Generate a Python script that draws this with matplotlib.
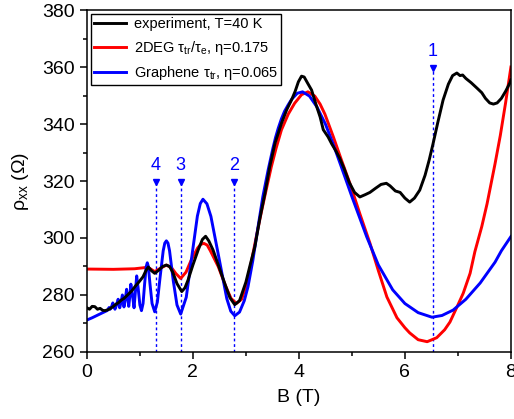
import numpy as np
import matplotlib
matplotlib.use('Agg')
import matplotlib.pyplot as plt

plt.rcParams['font.family'] = ['Liberation Sans', 'DejaVu Sans']
plt.rcParams['mathtext.fontset'] = 'custom'
plt.rcParams['mathtext.rm'] = 'Liberation Sans'
plt.rcParams['mathtext.it'] = 'Liberation Sans:italic'

# experiment, T=40 K
exp_B = [0.00, 0.05, 0.10, 0.15, 0.20, 0.25, 0.30, 0.34, 0.40, 0.44, 0.50, 0.55, 0.59, 0.65,
         0.70, 0.78, 0.85, 0.91, 0.98, 1.06, 1.12, 1.16, 1.22, 1.28, 1.35, 1.43, 1.50, 1.56,
         1.62, 1.70, 1.79, 1.85, 1.91, 2.00, 2.10, 2.18, 2.24, 2.30, 2.38, 2.48, 2.60, 2.70,
         2.79, 2.88, 3.00, 3.08, 3.17, 3.26, 3.36, 3.45, 3.55, 3.67, 3.77, 3.86, 3.93, 3.99,
         4.05, 4.10, 4.16, 4.24, 4.32, 4.40, 4.46, 4.55, 4.62, 4.70, 4.77, 4.85, 4.95, 5.05,
         5.15, 5.25, 5.34, 5.45, 5.55, 5.65, 5.72, 5.82, 5.91, 6.00, 6.09, 6.18, 6.28, 6.38,
         6.46, 6.53, 6.62, 6.72, 6.82, 6.90, 6.98, 7.04, 7.09, 7.15, 7.25, 7.36, 7.45, 7.52,
         7.60, 7.67, 7.74, 7.82, 7.90, 7.98, 8.00]
exp_rho = [275.5, 275.0, 276.0, 275.9, 275.0, 275.3, 274.6, 274.5, 274.8, 275.2, 276.0, 276.8,
           277.2, 278.2, 278.8, 280.2, 281.5, 283.0, 284.5, 286.4, 288.8, 289.8, 288.5, 287.6,
           288.6, 290.0, 290.5, 290.0, 288.0, 284.0, 281.2, 282.5, 285.3, 290.5, 295.8, 299.5,
           300.6, 299.0, 295.8, 290.5, 284.1, 279.0, 276.6, 278.0, 284.5, 290.5, 297.0, 306.5,
           315.7, 325.0, 333.3, 340.2, 345.0, 348.4, 351.5, 354.8, 356.8, 356.5, 354.5, 351.9,
           347.0, 342.5, 338.0, 335.5, 333.0, 330.5, 328.0, 324.5, 319.5, 316.0, 314.4, 315.2,
           316.0, 317.5, 318.8, 319.2, 318.3, 316.5, 316.0, 314.0, 312.6, 314.0, 316.8, 322.0,
           327.5, 333.0, 340.5, 348.4, 354.0, 357.0, 357.9, 357.0, 357.2, 356.0, 354.5, 352.6,
           351.0, 349.0, 347.4, 347.0, 347.4, 349.0, 351.5, 354.4, 355.5]

# 2DEG model
deg_B = [0.00, 0.50, 0.90, 1.09, 1.18, 1.28, 1.38, 1.50, 1.60, 1.68, 1.77, 1.87, 1.97, 2.09,
         2.15, 2.21, 2.27, 2.33, 2.48, 2.62, 2.72, 2.82, 2.92, 3.02, 3.11, 3.20, 3.30, 3.39,
         3.48, 3.57, 3.67, 3.80, 3.92, 4.05, 4.17, 4.30, 4.40, 4.49, 4.65, 4.80, 4.96, 5.15,
         5.34, 5.50, 5.66, 5.85, 6.00, 6.09, 6.25, 6.42, 6.60, 6.75, 6.85, 7.00, 7.10, 7.23,
         7.32, 7.45, 7.55, 7.70, 7.80, 7.90, 8.00]
deg_rho = [289.1, 289.0, 289.2, 289.6, 289.4, 288.2, 289.3, 290.5, 289.5, 287.5, 285.8, 288.0,
           292.3, 296.5, 297.8, 298.1, 297.5, 295.5, 289.9, 283.0, 278.8, 277.0, 278.5, 284.0,
           292.3, 300.8, 309.8, 317.5, 325.0, 331.5, 337.9, 343.5, 347.3, 350.3, 351.3, 349.8,
           347.0, 343.5, 335.5, 327.5, 319.3, 308.5, 298.2, 288.5, 279.3, 272.0, 268.5, 266.7,
           264.3, 263.6, 265.0, 267.8, 270.5, 276.5, 280.6, 287.6, 295.2, 304.0, 312.0, 326.0,
           336.0, 347.5, 360.0]

# Graphene model
gr_B = [0.00, 0.10, 0.20, 0.30, 0.38, 0.42, 0.44, 0.46, 0.49, 0.51, 0.53, 0.56, 0.59, 0.605,
        0.62, 0.645, 0.67, 0.685, 0.70, 0.725, 0.75, 0.77, 0.79, 0.81, 0.83, 0.86, 0.89, 0.915,
        0.94, 0.97, 1.00, 1.03, 1.06, 1.09, 1.12, 1.14, 1.16, 1.19, 1.23, 1.28, 1.33, 1.38,
        1.44, 1.47, 1.50, 1.53, 1.56, 1.63, 1.70, 1.77, 1.875, 1.98, 2.085, 2.14, 2.19, 2.265,
        2.34, 2.49, 2.64, 2.715, 2.79, 2.88, 2.97, 3.04, 3.13, 3.23, 3.32, 3.42, 3.51, 3.56,
        3.61, 3.67, 3.73, 3.80, 3.86, 3.97, 4.07, 4.20, 4.34, 4.50, 4.64, 4.80, 5.00, 5.28,
        5.50, 5.77, 6.00, 6.25, 6.51, 6.70, 6.91, 7.15, 7.42, 7.70, 7.82, 8.00]
gr_rho = [271.2, 272.0, 272.9, 273.8, 274.5, 275.6, 275.0, 275.6, 277.2, 276.0, 275.0, 276.5,
          278.5, 277.0, 275.5, 277.5, 280.0, 278.0, 275.8, 278.5, 282.0, 279.0, 276.0, 279.5,
          283.8, 280.0, 275.5, 281.0, 286.7, 282.0, 276.5, 274.5, 277.0, 284.0, 290.0, 291.3,
          290.0, 284.0, 277.0, 274.1, 277.5, 286.0, 295.5, 298.2, 299.0, 298.2, 295.5, 285.0,
          276.5, 273.3, 279.2, 293.5, 307.7, 312.1, 313.6, 312.0, 307.6, 293.2, 278.7, 274.3,
          272.7, 274.0, 278.0, 282.9, 292.0, 304.0, 314.5, 323.9, 331.5, 335.3, 338.5, 341.8,
          344.5, 346.8, 348.6, 350.8, 351.3, 349.8, 346.0, 340.0, 333.3, 325.0, 314.5, 300.4,
          290.5, 281.8, 277.0, 273.8, 272.2, 272.8, 274.7, 278.5, 284.2, 291.5, 295.5, 300.5]

# level markers
mark_B = [6.53, 2.78, 1.77, 1.30]
mark_top = [359.5, 319.5, 319.5, 319.5]
mark_lbl = ['1', '2', '3', '4']

fig = plt.figure(figsize=(5.14, 4.19), dpi=100)
ax = fig.add_axes([0.169, 0.160, 0.825, 0.816])

for b, top, lbl in zip(mark_B, mark_top, mark_lbl):
    ax.plot([b, b], [260, top], color='blue', lw=1.0, ls=(0, (2, 2)), zorder=1)
    ax.plot([b], [top], marker='v', color='blue', ms=5, zorder=1)
    ax.text(b, top + 3.0, lbl, color='blue', fontsize=13, ha='center', va='bottom')

ax.plot(exp_B, exp_rho, color='black', lw=2.1, label='experiment, T=40 K', zorder=3)
ax.plot(deg_B, deg_rho, color='red', lw=2.1, label='2DEG τ$_{\\rm tr}$/τ$_{\\rm e}$, η=0.175', zorder=2)
ax.plot(gr_B, gr_rho, color='blue', lw=2.1, label='Graphene τ$_{\\rm tr}$, η=0.065', zorder=2)

ax.set_xlim(0, 8)
ax.set_ylim(260, 380)
ax.set_xticks([0, 2, 4, 6, 8])
ax.set_xticks([1, 3, 5, 7], minor=True)
ax.set_yticks(np.arange(260, 381, 20))
ax.set_yticks(np.arange(270, 380, 20), minor=True)
ax.tick_params(which='major', direction='out', length=5, width=1.1, labelsize=14)
ax.tick_params(which='minor', direction='out', length=3, width=1.1)
for s in ax.spines.values():
    s.set_linewidth(1.1)

ax.set_xlabel('B (T)', fontsize=14, labelpad=6)
ax.set_ylabel('ρ$_{\\rm xx}$ (Ω)', fontsize=14, labelpad=8)

leg = ax.legend(loc='upper left', fontsize=10.5, frameon=True, fancybox=False, edgecolor='black',
                framealpha=1, borderpad=0.2, labelspacing=0.5, handlelength=2.2,
                handletextpad=0.5, borderaxespad=0.3)
leg.get_frame().set_linewidth(1.0)

fig.savefig('out.png', dpi=100)
